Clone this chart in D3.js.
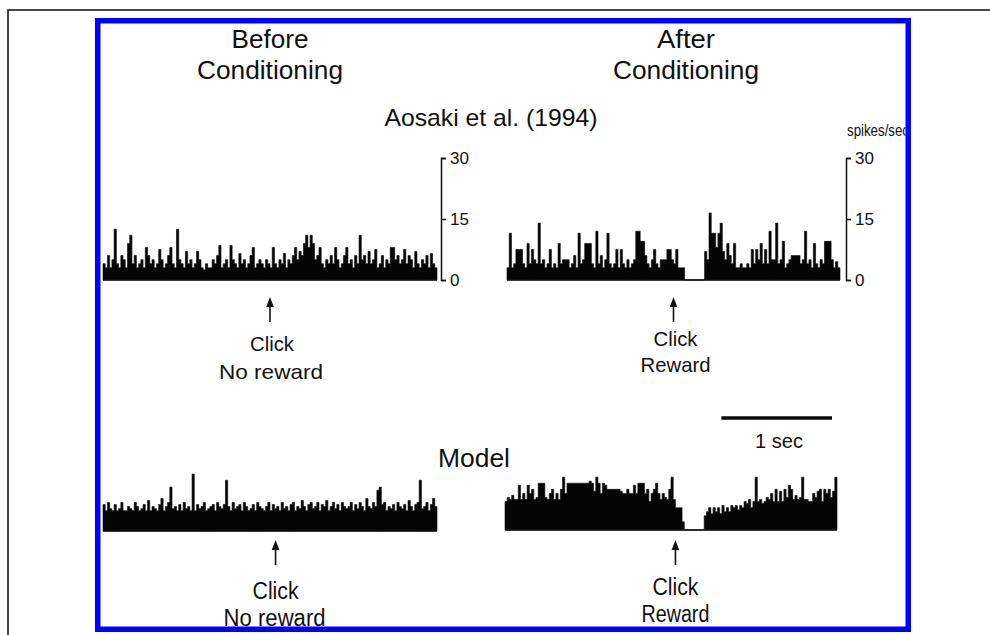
<!DOCTYPE html>
<html>
<head>
<meta charset="utf-8">
<script src="https://cdn.jsdelivr.net/npm/d3@7"></script>
<style>
  html, body { margin: 0; padding: 0; background: #fff; }
  svg { display: block; }
  text { fill: #111; }
</style>
</head>
<body>
<svg id="fig" width="990" height="635"></svg>
<script>
// Peri-stimulus time histograms (spikes/sec), 20 ms bins over a 3 s window.
const binWidthSec = 0.02;
const windowSec = 3;
const rateMax = 30;
const rateTicks = [0, 15, 30];
const tickLabels = ["0", "15", "30"];

// Recorded neuron (Aosaki et al. 1994)
const recordedBefore = [
  4, 3, 6, 3, 5, 12.5, 4, 3, 6, 5,
  3, 9, 11, 4, 6, 3, 4, 5, 3, 8,
  6, 4, 5, 3, 4, 7.5, 5, 3, 4, 6,
  8, 4, 3, 12.5, 5, 4, 3, 7, 4, 5,
  3, 4, 7, 5, 3, 2.5, 4, 3, 3, 5,
  4, 6, 8.5, 3, 4, 5, 3, 8.5, 5, 4,
  3, 6.5, 4, 5, 3, 4, 6, 8, 3, 4,
  5, 4, 3, 5, 4, 3, 8, 4, 3, 5,
  4, 6.5, 3, 5, 4, 6, 8, 5, 7, 6,
  9, 11, 8, 11, 9, 5, 6, 8, 4, 3,
  5, 4, 6, 4, 8, 5, 3, 4, 6, 8,
  4, 5, 3, 6, 4, 11, 5, 6, 4, 7,
  4, 5, 7.5, 3, 4, 6, 3, 5, 4, 8,
  8, 5, 6, 4, 5, 7.5, 4, 6, 5, 3,
  7, 4, 3, 5, 4, 6, 3, 6.5, 4, 3
];
const recordedAfter = [
  3, 11.5, 3, 4, 7.5, 7.5, 7.5, 4, 3, 9,
  4, 7.5, 5, 4, 14, 4, 5, 3, 4, 7.5,
  3, 4, 3, 9, 4, 5, 5, 5, 3, 4,
  6, 3, 11.5, 4, 5, 9, 9, 9, 4, 3,
  12, 4, 6, 3, 5, 11.5, 4, 3, 4, 7.5,
  3, 7.5, 4, 3, 5, 3, 4, 5, 12, 12,
  9.5, 9.5, 6, 4, 3, 5, 7.5, 4, 3, 5,
  5, 5, 7.5, 7.5, 5, 4, 7.5, 3, 3, 3,
  0, 0, 0, 0, 0, 0, 0, 0, 0, 7,
  5, 16.5, 11.5, 11.5, 8, 11.5, 14, 7, 5, 9,
  6, 4, 9, 3, 3, 4, 3, 3, 4, 3,
  7.5, 4, 7.5, 5, 9, 4, 7.5, 4, 12, 5,
  5, 14, 4, 5, 9.5, 3, 4, 5, 6, 6,
  6, 6, 4, 5, 12, 4, 5, 3, 9, 4,
  3, 5, 4, 9.5, 9.5, 9.5, 5, 3, 4.5, 3
];

// Model output
const modelBefore = [
  6.5, 5, 7, 5.5, 5, 6.5, 5, 5.5, 7, 5,
  5, 6, 5.5, 5, 7, 6, 5, 5.5, 6.5, 5,
  7.5, 5, 6, 5.5, 5, 6.5, 8, 5, 6, 7,
  10.8, 5.5, 6, 5, 6.5, 5, 7, 5.5, 6, 5,
  14, 5, 6.5, 5.5, 6, 7, 5, 5.5, 6, 6.5,
  5, 7, 6, 5.5, 6.5, 12.5, 6, 5, 7, 5.5,
  6, 6.5, 5, 7, 6, 5, 5.5, 6.5, 5, 7,
  6, 5.5, 5, 6, 7, 5, 6.5, 5.5, 6, 5,
  7, 5.5, 6, 5, 6.5, 7, 5, 6, 5.5, 7.5,
  6, 5, 6.5, 7, 5.5, 6, 7, 5, 6.5, 6,
  7.5, 5, 6, 7, 5.5, 6.5, 5, 7, 6, 5.5,
  6, 7, 5, 6.5, 5.5, 7, 6, 5, 8, 6,
  5.5, 7, 6, 10, 10.8, 6.5, 7, 5, 6, 5.5,
  6.5, 5, 7, 6, 5.5, 6.5, 5, 7.5, 6, 5,
  6.5, 7, 12.5, 5.5, 6, 7, 5, 6.5, 8, 6
];
const modelAfter = [
  7, 8, 7.5, 8.5, 7.5, 7.5, 11, 7.5, 9, 7.5,
  11, 9, 10, 7.5, 8, 11.5, 11.5, 11.5, 8, 7.5,
  9, 10, 7.5, 9, 7.5, 10, 13, 9, 11.5, 11.5,
  11.5, 11.5, 11.5, 11.5, 11.5, 11.5, 11.5, 11.5, 12, 11.5,
  9.5, 13, 11.5, 9, 11.5, 11, 10, 10, 10, 10,
  10, 10, 9.5, 9, 9, 10, 9, 9, 11, 9,
  11.5, 11.5, 11.5, 9, 10, 7, 9, 10, 11.5, 9,
  7.5, 9, 8, 7.5, 10, 13, 7.5, 5.5, 5.5, 5.5,
  2, 0, 0, 0, 0, 0, 0, 0, 0, 0,
  3.5, 4.5, 5.5, 4, 5.5, 4.5, 5.5, 4, 6, 4.5,
  5.5, 4.5, 6, 5.5, 6, 5, 6, 5.5, 7, 6.5,
  7.5, 5.5, 7, 13, 7, 7.5, 6.5, 7, 8, 7.5,
  9, 7, 10, 7, 9.5, 7, 10, 8, 11, 10,
  7.5, 8.5, 7.5, 8, 13, 7.5, 7.5, 7, 7, 9,
  8, 9.5, 10, 7, 10, 9, 10, 8, 9.5, 13
];

// Click onset time (s) within each window: recorded before/after, model before/after
const clickTimes = [1.5, 1.5, 1.55, 1.54];
const clickLabelsBefore = ["Click", "No reward"];
const clickLabelsAfter = ["Click", "Reward"];
const columnTitles = [["Before", "Conditioning"], ["After", "Conditioning"]];
const scaleBarSec = 1;

const svg = d3.select("#fig");
const SANS = "'Liberation Sans', Arial, Helvetica, sans-serif";

// Everything inside the blue frame is trimmed to its inner edge
svg.append("defs").append("clipPath")
  .attr("id", "inside-frame")
  .append("rect")
  .attr("x", 100.5).attr("y", 23.5)
  .attr("width", 805).attr("height", 603);

// Outer page frame
svg.append("rect")
  .attr("x", 8).attr("y", 10)
  .attr("width", 1000).attr("height", 640)
  .attr("fill", "none")
  .attr("stroke", "#1b1b1b")
  .attr("stroke-width", 1.6);

const content = svg.append("g").attr("clip-path", "url(#inside-frame)");

const panels = [
  { data: recordedBefore, x0: 103, x1: 437, base: 280, axisX: 441, click: clickTimes[0],
    tipY: 297, labels: clickLabelsBefore,
    labelPos: [{ dx: 2, y: 351, w: 44, fs: 21 }, { dx: 1, y: 379, w: 104, fs: 21 }] },
  { data: recordedAfter, x0: 507, x1: 840, base: 280, axisX: 846, click: clickTimes[1],
    tipY: 297, labels: clickLabelsAfter,
    labelPos: [{ dx: 2, y: 346, w: 44, fs: 21 }, { dx: 2, y: 372, w: 70, fs: 21 }] },
  { data: modelBefore, x0: 103, x1: 437, base: 531, axisX: null, click: clickTimes[2],
    tipY: 540, labels: clickLabelsBefore,
    labelPos: [{ dx: 0, y: 599, w: 46, fs: 23 }, { dx: -1, y: 626, w: 102, fs: 23 }] },
  { data: modelAfter, x0: 505, x1: 837, base: 530, axisX: null, click: clickTimes[3],
    tipY: 540, labels: clickLabelsAfter,
    labelPos: [{ dx: 0, y: 595, w: 46, fs: 23 }, { dx: 0, y: 622, w: 68, fs: 23 }] }
];

panels.forEach(p => {
  const x = d3.scaleLinear().domain([0, windowSec]).range([p.x0, p.x1]);
  const y = d3.scaleLinear().domain([0, rateMax]).range([p.base, p.base - 122]);
  p.x = x; p.y = y;
  const g = content.append("g");

  // histogram as one stepped silhouette (bin edges -> rates)
  const steps = p.data.map((v, i) => ({ t: i * binWidthSec, v }));
  steps.push({ t: p.data.length * binWidthSec, v: p.data[p.data.length - 1] });
  const area = d3.area()
    .x(d => x(d.t))
    .y0(y(0))
    .y1(d => y(d.v))
    .curve(d3.curveStepAfter);
  g.append("path")
    .datum(steps)
    .attr("d", area)
    .attr("fill", "#050505")
    .attr("stroke", "#050505")
    .attr("stroke-width", 0.6)
    .attr("stroke-linejoin", "miter");

  // baseline
  g.append("line")
    .attr("x1", x(0)).attr("x2", x(windowSec))
    .attr("y1", y(0)).attr("y2", y(0))
    .attr("stroke", "#111").attr("stroke-width", 1.6);

  // rate axis
  if (p.axisX !== null) {
    const ax = content.append("g")
      .attr("transform", `translate(${p.axisX},0)`)
      .call(d3.axisRight(y)
        .tickValues(rateTicks)
        .tickSize(5)
        .tickSizeOuter(5)
        .tickPadding(4)
        .tickFormat((d, i) => tickLabels[i]));
    ax.selectAll("path, line").attr("stroke", "#111").attr("stroke-width", 1.5);
    ax.selectAll("text")
      .attr("font-family", SANS)
      .attr("font-size", 17)
      .attr("fill", "#111");
  }

  // click arrow
  const cx = x(p.click);
  g.append("line")
    .attr("x1", cx).attr("x2", cx)
    .attr("y1", p.tipY + 6).attr("y2", p.tipY + 25)
    .attr("stroke", "#111").attr("stroke-width", 1.6);
  g.append("path")
    .attr("d", `M${cx},${p.tipY} L${cx - 3.8},${p.tipY + 10} L${cx + 3.8},${p.tipY + 10} Z`)
    .attr("fill", "#111");

  // click labels
  p.labels.forEach((t, i) => {
    const lp = p.labelPos[i];
    g.append("text")
      .attr("x", cx + lp.dx)
      .attr("y", lp.y)
      .attr("text-anchor", "middle")
      .attr("font-family", SANS)
      .attr("font-size", lp.fs)
      .attr("textLength", lp.w)
      .attr("lengthAdjust", "spacingAndGlyphs")
      .text(t);
  });
});

// Column titles
const titleSpecs = [
  { x: 270, lines: columnTitles[0], widths: [77, 146] },
  { x: 686, lines: columnTitles[1], widths: [58, 146] }
];
titleSpecs.forEach(s => {
  s.lines.forEach((t, i) => {
    content.append("text")
      .attr("x", s.x)
      .attr("y", i === 0 ? 48 : 79)
      .attr("text-anchor", "middle")
      .attr("font-family", SANS)
      .attr("font-size", 25)
      .attr("textLength", s.widths[i])
      .attr("lengthAdjust", "spacingAndGlyphs")
      .text(t);
  });
});

// Row titles
content.append("text")
  .attr("x", 491).attr("y", 126)
  .attr("text-anchor", "middle")
  .attr("font-family", SANS)
  .attr("font-size", 24)
  .attr("textLength", 213)
  .attr("lengthAdjust", "spacingAndGlyphs")
  .text("Aosaki et al. (1994)");

content.append("text")
  .attr("x", 474).attr("y", 467)
  .attr("text-anchor", "middle")
  .attr("font-family", SANS)
  .attr("font-size", 25)
  .attr("textLength", 72)
  .attr("lengthAdjust", "spacingAndGlyphs")
  .text("Model");

// Unit label for the rate axis (runs into the frame edge)
content.append("text")
  .attr("x", 847).attr("y", 136)
  .attr("font-family", SANS)
  .attr("font-size", 16)
  .attr("textLength", 62)
  .attr("lengthAdjust", "spacingAndGlyphs")
  .text("spikes/sec");

// Time scale bar (1 s), on the model-after time axis
const sb = panels[3].x;
const sbStart = 1.955;
content.append("line")
  .attr("x1", sb(sbStart)).attr("x2", sb(sbStart + scaleBarSec))
  .attr("y1", 418).attr("y2", 418)
  .attr("stroke", "#0a0a0a").attr("stroke-width", 3.6);
content.append("text")
  .attr("x", 779).attr("y", 448)
  .attr("text-anchor", "middle")
  .attr("font-family", SANS)
  .attr("font-size", 20)
  .attr("textLength", 48)
  .attr("lengthAdjust", "spacingAndGlyphs")
  .text(`${scaleBarSec} sec`);

// Blue figure frame
svg.append("rect")
  .attr("x", 97.75).attr("y", 20.75)
  .attr("width", 810.5).attr("height", 608.5)
  .attr("fill", "none")
  .attr("stroke", "#0000ff")
  .attr("stroke-width", 5.5);
</script>
</body>
</html>
